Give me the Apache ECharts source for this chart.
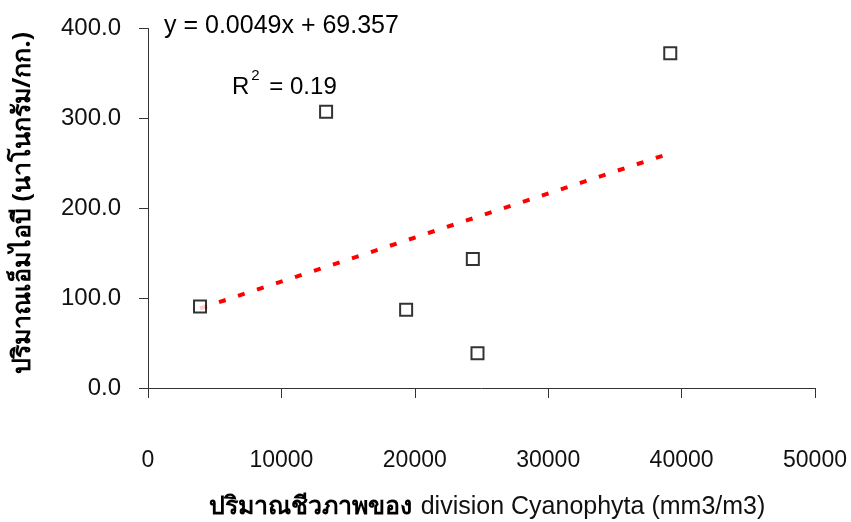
<!DOCTYPE html>
<html lang="th">
<head>
    <meta charset="UTF-8">
    <title>scatter</title>
    <script src="https://cdn.jsdelivr.net/npm/echarts@6/dist/echarts.min.js"></script>
    <style>
        * { margin: 0; padding: 0; }
        html, body { width: 851px; height: 522px; background: #fff; }
        #main { width: 851px; height: 522px; }
    </style>
</head>
<body>
<div id="main"></div>
<script>
    // ข้อมูลที่อ่านจากกราฟ
    var cyanoX = [3900, 13350, 19350, 24350, 24700, 39150];
    var mibY = [90.6, 307.5, 87.0, 143.5, 38.7, 372.5];
    var trendX = [3900, 39100];
    var trendY = [88.5, 261.0];
    var xTicks = [0, 10000, 20000, 30000, 40000, 50000];
    var yTicks = [0, 100, 200, 300, 400];

    var points = cyanoX.map(function (x, i) { return [x, mibY[i]]; });
    var trend = trendX.map(function (x, i) { return [x, trendY[i]]; });

    var myChart = echarts.init(document.getElementById('main'));
    var fontA = '"Liberation Sans", Arial, sans-serif';
    var fontT = '"Noto Sans", "DejaVu Sans", sans-serif';
    var option = {
        backgroundColor: '#fff',
        animation: false,
        grid: { left: 148, right: 36, top: 28.5, bottom: 134 },
        xAxis: {
            type: 'value',
            min: xTicks[0],
            max: xTicks[xTicks.length - 1],
            interval: 10000,
            splitLine: { show: false },
            axisLine: { lineStyle: { color: '#333', width: 1 } },
            axisTick: { length: 10, lineStyle: { color: '#333' } },
            axisLabel: {
                margin: 61, fontSize: 23, color: '#111', fontFamily: fontA,
                formatter: function (v) { return String(v); }
            }
        },
        yAxis: {
            type: 'value',
            min: yTicks[0],
            max: yTicks[yTicks.length - 1],
            interval: 100,
            splitLine: { show: false },
            axisLine: { show: true, lineStyle: { color: '#333', width: 1 } },
            axisTick: { show: true, length: 9, lineStyle: { color: '#333' } },
            axisLabel: {
                margin: 27, fontSize: 24, color: '#111', fontFamily: fontA,
                formatter: function (v) { return v.toFixed(1); }
            }
        },
        graphic: [
            {
                type: 'text', left: 164, top: 14,
                style: { text: 'y = 0.0049x + 69.357', font: '25px ' + fontA, fill: '#000' }
            },
            {
                type: 'text', left: 232, top: 68,
                style: {
                    text: '{a|R}{s|2}{a| = 0.19}',
                    rich: {
                        a: { fontSize: 24, fontFamily: fontA, fill: '#000', verticalAlign: 'bottom' },
                        s: { fontSize: 15, fontFamily: fontA, fill: '#000', verticalAlign: 'top', padding: [0, 3, 16, 2] }
                    }
                }
            },
            {
                type: 'text',
                x: 23, y: 203,
                rotation: Math.PI / 2,
                style: {
                    text: 'ปริมาณเอ็มไอบี (นาโนกรัม/กก.)',
                    font: 'bold 25px ' + fontT,
                    fill: '#000', align: 'center', verticalAlign: 'middle'
                }
            },
            {
                type: 'text',
                x: 487, y: 507,
                style: {
                    text: '{b|ปริมาณชีวภาพของ}{n|division Cyanophyta (mm3/m3)}',
                    align: 'center', verticalAlign: 'middle',
                    rich: {
                        b: { fontSize: 25, fontWeight: 'bold', fontFamily: fontT, fill: '#000' },
                        n: { fontSize: 25, fontFamily: fontA, fill: '#111', padding: [0, 0, 0, 9] }
                    }
                }
            }
        ],
        series: [
            {
                type: 'line',
                data: trend,
                symbol: 'none',
                z: 1,
                lineStyle: { color: '#ff0000', width: 4, type: [7, 13] }
            },
            {
                type: 'scatter',
                data: points,
                symbol: 'rect',
                symbolSize: 12,
                z: 3,
                itemStyle: { color: '#fff', borderColor: '#000', borderWidth: 2 }
            }
        ]
    };
    myChart.setOption(option);
</script>
</body>
</html>
